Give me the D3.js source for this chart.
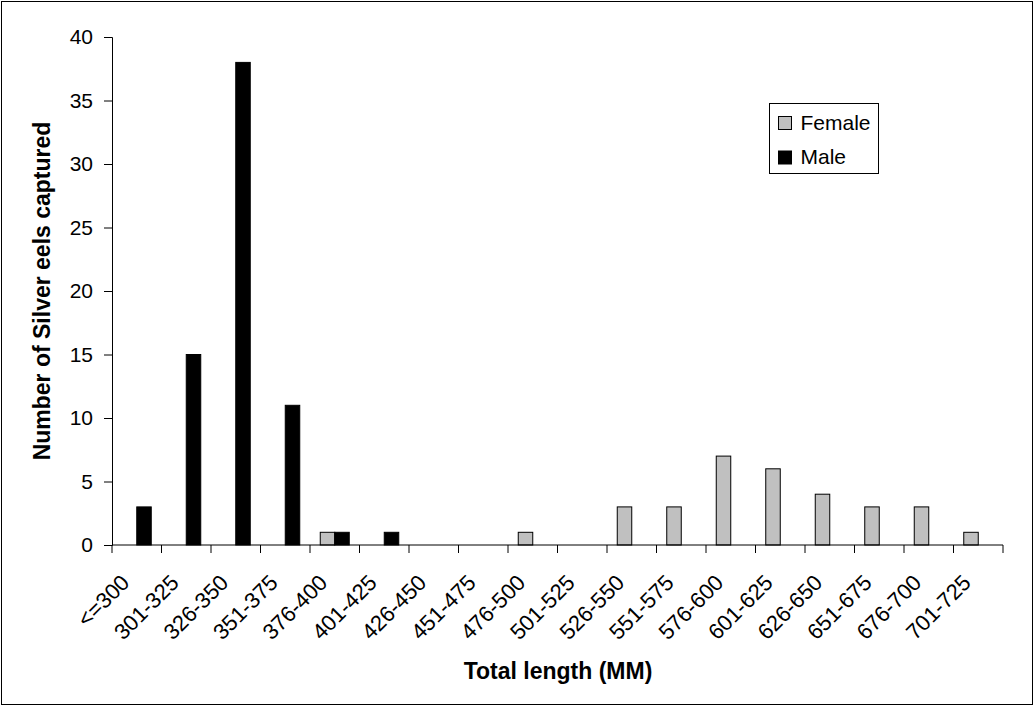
<!DOCTYPE html>
<html><head><meta charset="utf-8">
<script src="https://cdn.jsdelivr.net/npm/d3@7"></script>
<style>body{margin:0;background:#fff}svg{display:block}text{font-family:Arial,"Liberation Sans",sans-serif}</style>
</head><body><svg id="c" width="1034" height="706"></svg>
<script>
const categories = ["<=300","301-325","326-350","351-375","376-400","401-425","426-450","451-475","476-500","501-525","526-550","551-575","576-600","601-625","626-650","651-675","676-700","701-725"];
const femaleValues = [0,0,0,0,1,0,0,0,1,0,3,3,7,6,4,3,3,1];
const maleValues   = [3,15,38,11,1,1,0,0,0,0,0,0,0,0,0,0,0,0];
const yTicks = [0,5,10,15,20,25,30,35,40];
const seriesNames = ["Female","Male"];
const seriesColors = ["#c0c0c0","#000000"];

(function(){
const svg = d3.select("#c");
svg.append("rect").attr("x",1.5).attr("y",1.5).attr("width",1031).attr("height",703).attr("fill","#fff").attr("stroke","#000").attr("stroke-width",1);

const pl=112, pr=1003, pt=37, pb=545;
const x = d3.scaleBand().domain(categories).range([pl,pr]);
const y = d3.scaleLinear().domain([0,40]).range([pb,pt]);
const bw = 14.5;

const g = svg.append("g");
categories.forEach((c,i)=>{
  const cx = x(c)+x.bandwidth()/2;
  const f = femaleValues[i], m = maleValues[i];
  if(f>0) g.append("rect").attr("x",cx-bw).attr("y",y(f)).attr("width",bw).attr("height",y(0)-y(f))
    .attr("fill",seriesColors[0]).attr("stroke","#000").attr("stroke-width",1);
  if(m>0) g.append("rect").attr("x",cx).attr("y",y(m)).attr("width",bw).attr("height",y(0)-y(m))
    .attr("fill",seriesColors[1]).attr("stroke","#000").attr("stroke-width",1);
});

const ya = svg.append("g").attr("transform",`translate(${pl},0)`)
  .call(d3.axisLeft(y).tickValues(yTicks).tickSize(8).tickPadding(11));
ya.select(".domain").attr("stroke","#000");
ya.selectAll("text").attr("font-size",21).attr("fill","#000").attr("font-family","Arial, 'Liberation Sans', sans-serif");

const xa = svg.append("g").attr("transform",`translate(0,${pb})`);
xa.append("line").attr("x1",pl).attr("x2",pr).attr("stroke","#000");
const tickPos = categories.map(c=>x(c)).concat([pr]);
xa.selectAll("line.t").data(tickPos).enter().append("line").attr("class","t")
  .attr("x1",d=>d).attr("x2",d=>d).attr("y1",0).attr("y2",8).attr("stroke","#000");
xa.selectAll("text").data(categories).enter().append("text")
  .attr("transform",c=>`translate(${x(c)+x.bandwidth()/2-6},39) rotate(-45)`)
  .attr("text-anchor","end").attr("font-size",22).text(d=>d);

svg.append("text").attr("x",558).attr("y",679).attr("text-anchor","middle")
  .attr("font-size",23).attr("font-weight","bold").text("Total length (MM)");
svg.append("text").attr("transform","translate(49.5,291) rotate(-90)").attr("text-anchor","middle")
  .attr("font-size",23).attr("font-weight","bold").text("Number of Silver eels captured");

const lg = svg.append("g");
lg.append("rect").attr("x",769.5).attr("y",103.5).attr("width",109).attr("height",70).attr("fill","#fff").attr("stroke","#000");
seriesNames.forEach((n,i)=>{
  lg.append("rect").attr("x",778.5).attr("y",116.5+i*34.5).attr("width",13).attr("height",13)
    .attr("fill",seriesColors[i]).attr("stroke","#000");
  lg.append("text").attr("x",800.5).attr("y",129.5+i*34.5).attr("font-size",21).text(n);
});
})();
</script></body></html>
